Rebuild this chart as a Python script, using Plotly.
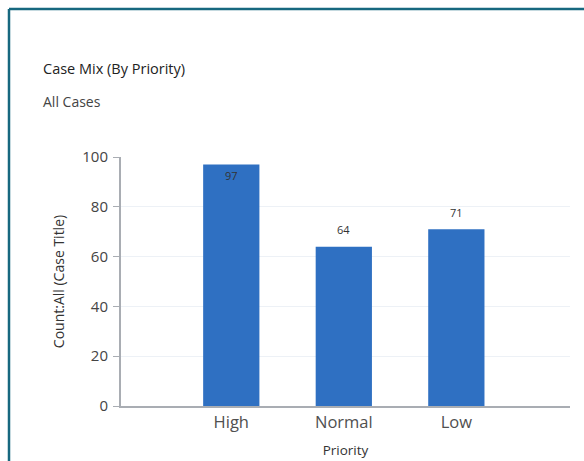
import plotly.graph_objects as go

# Case counts by priority
priorities = ["High", "Normal", "Low"]
case_counts = [97, 64, 71]
y_ticks = [0, 20, 40, 60, 80, 100]

W, H = 584, 461
ML, MR, MT, MB = 121, 14, 157, 55
PW, PH = W - ML - MR, H - MT - MB

FONT = "Open Sans, Noto Sans, sans-serif"
BAR_COLOR = "#2f70c2"
FRAME_COLOR = "#17687f"
AXIS_COLOR = "#a9adb3"


def px_to_paper_x(px):
    return (px - ML) / PW


def px_to_paper_y(py):
    return (H - MB - py) / PH


fig = go.Figure(
    go.Bar(
        x=priorities,
        y=case_counts,
        width=0.5,
        marker=dict(color=BAR_COLOR, line=dict(width=0)),
        hoverinfo="x+y",
    )
)

# Value labels: inside the bar near the top of the axis, above it otherwise
value_labels = []
for cat, val in zip(priorities, case_counts):
    inside = val > 90
    value_labels.append(
        dict(
            x=cat, y=val, xref="x", yref="y",
            text=str(val),
            showarrow=False,
            yanchor="middle",
            yshift=-11.5 if inside else 17,
            font=dict(family=FONT, size=11, color="#333333"),
        )
    )

fig.update_layout(
    width=W,
    height=H,
    margin=dict(l=ML, r=MR, t=MT, b=MB, pad=0, autoexpand=False),
    paper_bgcolor="white",
    plot_bgcolor="white",
    showlegend=False,
    xaxis=dict(
        range=[-0.98, 3.01],
        automargin=False,
        showgrid=False,
        showline=True,
        linecolor=AXIS_COLOR,
        linewidth=2,
        ticks="",
        tickfont=dict(family=FONT, size=16.5, color="#505050"),
        title=dict(text="Priority", font=dict(family=FONT, size=13.5, color="#333333"), standoff=14),
        fixedrange=True,
    ),
    yaxis=dict(
        range=[0, 100],
        automargin=False,
        tickvals=y_ticks,
        showgrid=True,
        gridcolor="#edf1f6",
        gridwidth=1,
        zeroline=False,
        showline=True,
        linecolor=AXIS_COLOR,
        linewidth=2,
        ticks="outside",
        ticklen=6,
        tickcolor=AXIS_COLOR,
        tickwidth=1,
        ticklabelstandoff=2,
        tickfont=dict(family=FONT, size=15, color="#444444"),
        title=dict(
            text="Count:All (Case Title)",
            font=dict(family=FONT, size=14, color="#333333"),
            standoff=14,
        ),
        fixedrange=True,
    ),
    annotations=value_labels + [
        dict(
            text="Case Mix (By Priority)",
            xref="paper", yref="paper",
            x=px_to_paper_x(41), y=px_to_paper_y(68),
            xanchor="left", yanchor="middle",
            showarrow=False,
            font=dict(family=FONT, size=14.5, color="#222222"),
        ),
        dict(
            text="All Cases",
            xref="paper", yref="paper",
            x=px_to_paper_x(41), y=px_to_paper_y(102),
            xanchor="left", yanchor="middle",
            showarrow=False,
            font=dict(family=FONT, size=14, color="#444444"),
        ),
    ],
    shapes=[
        # panel frame: top and left edges
        dict(
            type="line", xref="paper", yref="paper",
            x0=px_to_paper_x(9), x1=px_to_paper_x(W + 5),
            y0=px_to_paper_y(9), y1=px_to_paper_y(9),
            line=dict(color=FRAME_COLOR, width=2.5),
        ),
        dict(
            type="line", xref="paper", yref="paper",
            x0=px_to_paper_x(9), x1=px_to_paper_x(9),
            y0=px_to_paper_y(9), y1=px_to_paper_y(H + 5),
            line=dict(color=FRAME_COLOR, width=2.5),
        ),
    ],
)

fig.write_html("out.html")
